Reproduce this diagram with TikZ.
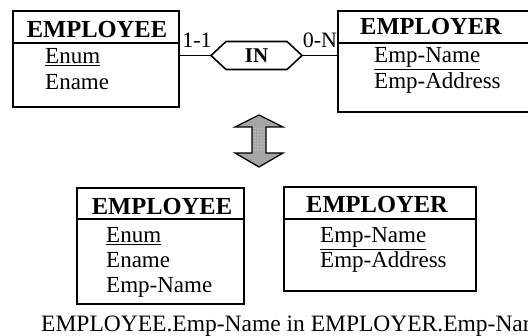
\documentclass[tikz,border=0pt]{standalone}
\usepackage{fontspec}
\setmainfont{Liberation Serif}
\usetikzlibrary{patterns}
\begin{document}
\begin{tikzpicture}[x=1pt,y=-1pt,
  entity/.style={draw, line width=1.6pt, inner sep=0pt, rectangle},
  hdr/.style={font=\fontsize{24.5}{28}\selectfont\bfseries, anchor=base, inner sep=0pt},
  attr/.style={font=\fontsize{23}{27}\selectfont, anchor=base west, inner sep=0pt},
  card/.style={font=\fontsize{22}{26}\selectfont, anchor=base, inner sep=0pt},
  conn/.style={line width=1.6pt},
  relshape/.style={line width=1.6pt, line join=miter},
  bigarrow/.style={line width=1.3pt, fill=gray!70}]
\path[use as bounding box] (0,0) rectangle (528,336);
\clip (0,0) rectangle (528,336);

% top entities
\node[entity, minimum width=166pt, minimum height=96pt] (e1) at (96,59) {};
\node[entity, minimum width=192pt, minimum height=101pt] (r1) at (434,61.5) {};
\coordinate (h1) at (0,43);
\draw[conn] (e1.west |- h1) -- (e1.east |- h1);
\draw[conn] (r1.west |- h1) -- (r1.east |- h1);
\node[hdr] (e1t) at (97,38) {EMPLOYEE};
\node[attr] (e1a) at (45,64) {\underline{Enum}};
\node[attr] (e1b) at (45,90) {Ename};
\node[hdr] (r1t) at (431,35) {EMPLOYER};
\node[attr] (r1a) at (374,63) {\underline{Emp-Name}};
\node[attr] (r1b) at (374,89) {Emp-Address};

% relationship
\coordinate (inl) at (211,55.5);
\coordinate (inr) at (302,55.5);
\node[font=\fontsize{21}{24}\selectfont\bfseries, inner sep=0pt] (in) at (256.5,55.5) {IN};
\draw[relshape] (inl) -- (226,41.5) -- (287,41.5) -- (inr) -- (287,69.5) -- (226,69.5) -- cycle;
\draw[conn] (inl) -- (inl -| e1.east);
\draw[conn] (inr) -- (inr -| r1.west);
\node[card] (c1) at (197,48) {1-1};
\node[card] (c2) at (320,48) {0-N};

% double arrow
\draw[bigarrow] (259,115) -- (283,127) -- (266,127) -- (266,153) -- (283,153) -- (259,167)
  -- (235,153) -- (252,153) -- (252,127) -- (235,127) -- cycle;
\fill[pattern=dots, pattern color=white] (253,128) rectangle (265,152);

% bottom tables
\node[entity, minimum width=167pt, minimum height=116pt] (e2) at (160.5,246) {};
\node[entity, minimum width=192pt, minimum height=104pt] (r2) at (380,239) {};
\coordinate (h2) at (0,219);
\draw[conn] (e2.west |- h2) -- (e2.east |- h2);
\draw[conn] (r2.west |- h2) -- (r2.east |- h2);
\node[hdr] (e2t) at (162,215) {EMPLOYEE};
\node[attr] (e2a) at (106,243) {\underline{Enum}};
\node[attr] (e2b) at (106,268) {Ename};
\node[attr] (e2c) at (106,293) {Emp-Name};
\node[hdr] (r2t) at (377,213) {EMPLOYER};
\node[attr] (r2a) at (320,243) {\underline{Emp-Name}};
\node[attr] (r2b) at (320,268) {Emp-Address};

% caption (cut off at the right edge, as in the reference)
\node[attr, font=\fontsize{23.5}{27}\selectfont] (cap) at (41,332) {EMPLOYEE.Emp-Name in EMPLOYER.Emp-Name};
\end{tikzpicture}
\end{document}
